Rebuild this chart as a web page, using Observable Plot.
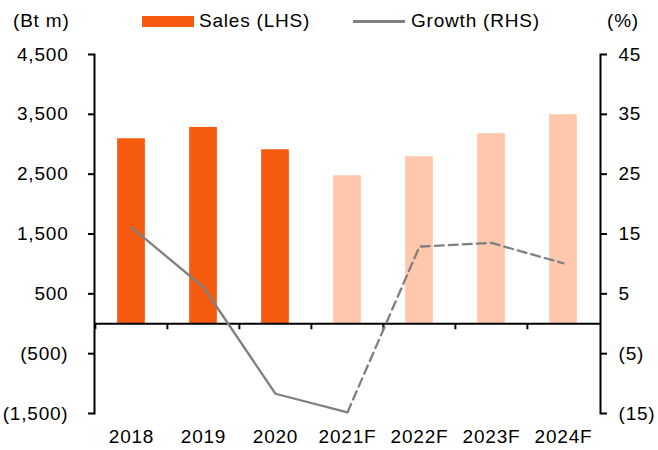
<!DOCTYPE html>
<html>
<head>
<meta charset="utf-8">
<script src="https://cdn.jsdelivr.net/npm/d3@7"></script>
<script src="https://cdn.jsdelivr.net/npm/@observablehq/plot@0.6"></script>
<style>
  html, body { margin: 0; padding: 0; background: #fff; }
  #wrap { position: relative; width: 658px; height: 450px; font-family: "Liberation Sans", Arial, sans-serif; font-size: 19px; letter-spacing: 0.8px; color: #000; }
  #legend { position: relative; height: 40px; }
  .lg { position: absolute; top: 10px; line-height: 22px; white-space: nowrap; }
  .sw { position: absolute; }
  #chart { position: absolute; top: 40px; left: 0; }
</style>
</head>
<body>
<div id="wrap">
  <div id="legend">
    <span class="lg" style="left:13px">(Bt m)</span>
    <span class="sw" style="left:142px; top:16px; width:52px; height:11px; background:#F55A0F"></span>
    <span class="lg" style="left:199px">Sales (LHS)</span>
    <span class="sw" style="left:353px; top:20px; width:52px; height:2.5px; background:#808080"></span>
    <span class="lg" style="left:411px">Growth (RHS)</span>
    <span class="lg" style="left:607px">(%)</span>
  </div>
  <div id="chart"></div>
</div>
<script>
const categories = ["2018", "2019", "2020", "2021F", "2022F", "2023F", "2024F"];
const sales = [3092, 3281, 2908, 2474, 2791, 3176, 3493];
const growth = [16.1, 6.1, -11.7, -14.8, 12.9, 13.5, 10.1];
const forecast = [false, false, false, true, true, true, true];
const leftTicks = [-1500, -500, 500, 1500, 2500, 3500, 4500];
const rightTicks = [-15, -5, 5, 15, 25, 35, 45];
const ratio = 100; // left units per right unit

const colActual = "#F55A0F";
const colForecast = "#FFC7AC";
const colLine = "#808080";

const W = 658, H = 410;
const mL = 94, mR = 58, mT = 14, mB = 37;
const yDomain = [leftTicks[0], leftTicks[leftTicks.length - 1]];
const bw = (W - mL - mR) / categories.length;
const barW = 28;
const pxPerUnit = (H - mT - mB) / (yDomain[1] - yDomain[0]);
const tickLen = 6;

const rows = categories.map((c, i) => ({cat: c, sales: sales[i], growth: growth[i] * ratio, forecast: forecast[i]}));
const solid = rows.filter((d, i) => i <= 3);
const dashed = rows.filter((d, i) => i >= 3);

const paren = v => v < 0 ? `(${d3.format(",")(-v)})` : d3.format(",")(v);

const plot = Plot.plot({
  width: W,
  height: H,
  marginLeft: mL,
  marginRight: mR,
  marginTop: mT,
  marginBottom: mB,
  style: {fontFamily: "'Liberation Sans', Arial, sans-serif", fontSize: "19px", letterSpacing: "0.8px", color: "#000", background: "#fff"},
  x: {type: "band", domain: categories, padding: 0, label: null},
  y: {domain: yDomain, label: null},
  marks: [
    Plot.barY(rows, {x: "cat", y: "sales", fill: d => d.forecast ? colForecast : colActual, insetLeft: (bw - barW) / 2, insetRight: (bw - barW) / 2}),
    Plot.ruleY([0], {stroke: "#000", strokeWidth: 2}),
    Plot.ruleX(categories, {x: d => d, y1: 0, y2: -tickLen / pxPerUnit, dx: -bw / 2, stroke: "#000", strokeWidth: 2}),
    Plot.frame({anchor: "left", stroke: "#000", strokeWidth: 2}),
    Plot.frame({anchor: "right", stroke: "#000", strokeWidth: 2}),
    Plot.line(solid, {x: "cat", y: "growth", stroke: colLine, strokeWidth: 2.3}),
    Plot.line(dashed, {x: "cat", y: "growth", stroke: colLine, strokeWidth: 2.3, strokeDasharray: "9,5"}),
    Plot.axisY({anchor: "left", ticks: leftTicks, tickFormat: paren, tickSize: tickLen, tickPadding: 20, strokeWidth: 2, label: null}),
    Plot.axisY({anchor: "right", ticks: rightTicks.map(v => v * ratio), tickFormat: d => paren(d / ratio), tickSize: tickLen, tickPadding: 12, strokeWidth: 2, label: null}),
    Plot.axisX({anchor: "bottom", tickSize: 0, tickPadding: 16, label: null})
  ]
});
document.getElementById("chart").appendChild(plot);
</script>
</body>
</html>
